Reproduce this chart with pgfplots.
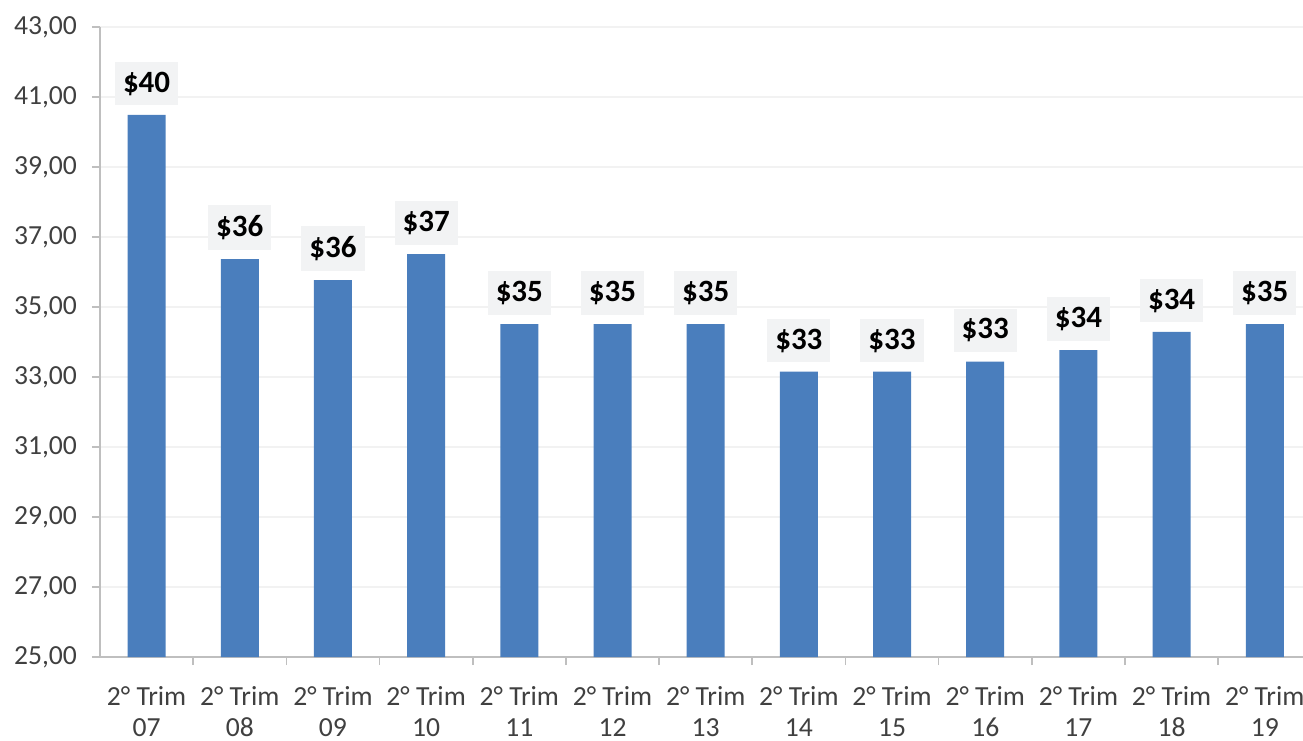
\documentclass[border=0pt]{standalone}
\usepackage{pgfplots}
\pgfplotsset{compat=1.18}
\usepackage{fontspec}
\setmainfont{Carlito}
\definecolor{barblue}{RGB}{74,126,189}
\definecolor{axgray}{RGB}{191,191,191}
\definecolor{gridgray}{RGB}{242,242,242}
\definecolor{lblfill}{RGB}{242,243,244}
\definecolor{ticktext}{RGB}{64,64,64}
\begin{document}
\begin{tikzpicture}
\begin{axis}[
  scale only axis,
  width=601.5pt, height=315pt,
  xmin=-0.5, xmax=12.41,
  ymin=25, ymax=43,
  ytick={25,27,...,43},
  axis x line=bottom, axis y line=left,
  axis line style={-, draw=axgray, line width=1pt},
  ymajorgrids, grid style={draw=gridgray, line width=0.8pt},
  major tick style={draw=axgray, line width=0.8pt},
  tick align=outside,
  major tick length=4pt,
  xtick={0,...,12},
  xticklabels={2° Trim\\07,2° Trim\\08,2° Trim\\09,2° Trim\\10,2° Trim\\11,2° Trim\\12,2° Trim\\13,2° Trim\\14,2° Trim\\15,2° Trim\\16,2° Trim\\17,2° Trim\\18,2° Trim\\19},
  x tick style={draw=none},
  minor xtick={0.5,1.5,...,11.5},
  minor tick length=4pt,
  minor x tick style={draw=axgray, line width=0.8pt},
  xticklabel style={align=center, font=\fontsize{13.8}{15.5}\selectfont, text=ticktext, yshift=-7pt},
  yticklabel style={font=\fontsize{13.8}{15}\selectfont, text=ticktext, xshift=-4pt},
  /pgf/number format/.cd, fixed, fixed zerofill, precision=2, use comma, assume math mode=true,
]
\addplot[ybar, bar width=19pt, fill=barblue, draw=none,
  point meta=explicit symbolic,
  nodes near coords,
  every node near coord/.append style={anchor=south, yshift=4.5pt, fill=lblfill,
    font=\fontsize{15.5}{17}\selectfont\bfseries, text=black, inner xsep=4pt, inner ysep=5pt}]
  table[meta=lbl] {
  x y lbl
  0 40.49 \$40
  1 36.37 \$36
  2 35.77 \$36
  3 36.51 \$37
  4 34.51 \$35
  5 34.51 \$35
  6 34.51 \$35
  7 33.15 \$33
  8 33.15 \$33
  9 33.44 \$33
  10 33.77 \$34
  11 34.29 \$34
  12 34.51 \$35
  };
\end{axis}
\pgfresetboundingbox
\path[use as bounding box] (-50pt,-41.5pt) rectangle (601.5pt,328.5pt);
\end{tikzpicture}
\end{document}
